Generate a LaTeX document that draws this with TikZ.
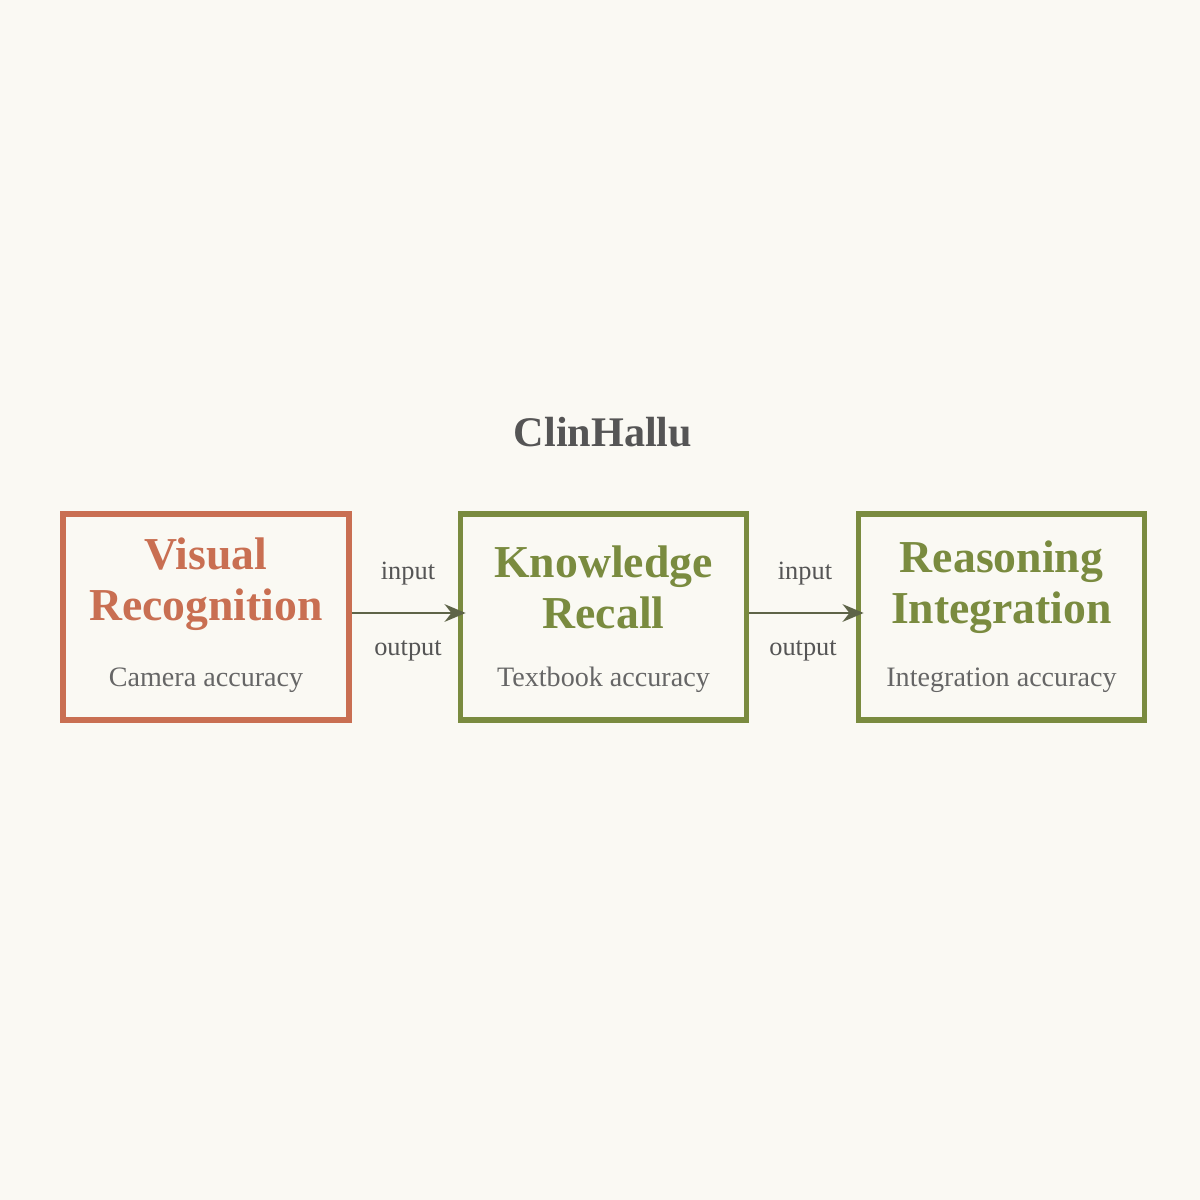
\documentclass[tikz,border=0pt]{standalone}
\usepackage{fontspec}
\setmainfont{Liberation Serif}
\usetikzlibrary{positioning,arrows.meta}
\definecolor{bgcol}{HTML}{FAF9F3}
\definecolor{visorange}{HTML}{C96F52}
\definecolor{knowgreen}{HTML}{7A8B3F}
\definecolor{titlegray}{HTML}{555555}
\definecolor{arrowgray}{HTML}{5E6448}
\tikzset{
  stage/.style={draw, line width=1.6pt, minimum width=2.86cm, minimum height=2.06cm, inner sep=0pt},
  stagetitle/.style={font=\fontsize{13}{14.5}\selectfont\bfseries, align=center},
  stagesub/.style={font=\fontsize{8}{9}\selectfont, text=titlegray!90},
  flow/.style={-{Stealth[length=6pt,width=5pt]}, arrowgray, line width=0.7pt},
  flowlabel/.style={font=\fontsize{7.5}{9}\selectfont, text=titlegray}
}
\begin{document}
\begin{tikzpicture}
	\fill[bgcol] (0,0) rectangle (12,12);
	\useasboundingbox (0,0) rectangle (12,12);
	\node[font=\fontsize{12}{14}\selectfont\bfseries, text=titlegray] (title) at (6.03,7.68) {ClinHallu};
	% stages
	\node[stage, visorange] (vis) at (2.06,5.83) {};
	\node[stage, knowgreen] (know) at (6.035,5.83) {};
	\node[stage, knowgreen] (reas) at (10.015,5.83) {};
	\node[stagetitle, text=visorange] (vist) at (2.06,6.16) {Visual\\Recognition};
	\node[stagetitle, text=knowgreen] (knowt) at (6.035,6.13) {Knowledge\\Recall};
	\node[stagetitle, text=knowgreen] (reast) at (10.015,6.13) {Reasoning\\Integration};
	\node[stagesub] (viss) at (2.06,5.2) {Camera accuracy};
	\node[stagesub] (knows) at (6.035,5.2) {Textbook accuracy};
	\node[stagesub] (reass) at (10.015,5.2) {Integration accuracy};
	% connectors
	\draw[flow] ([yshift=0.04cm]vis.east) -- ([xshift=0.08cm,yshift=0.04cm]know.west);
	\draw[flow] ([yshift=0.04cm]know.east) -- ([xshift=0.08cm,yshift=0.04cm]reas.west);
	\node[flowlabel] (in1) at (4.08,6.26) {input};
	\node[flowlabel] (out1) at (4.08,5.49) {output};
	\node[flowlabel] (in2) at (8.05,6.26) {input};
	\node[flowlabel] (out2) at (8.03,5.49) {output};
\end{tikzpicture}
\end{document}
